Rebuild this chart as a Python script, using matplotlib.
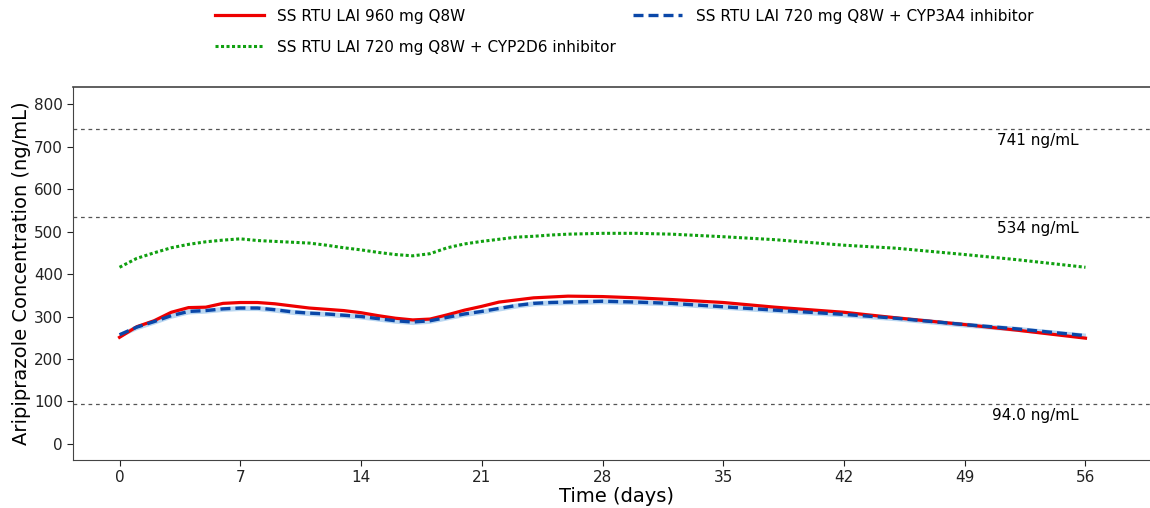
import matplotlib
matplotlib.use("Agg")
import matplotlib.pyplot as plt
import numpy as np

days = [0, 1, 2, 3, 4, 5, 6, 7, 8, 9, 10, 11, 12, 13, 14, 15, 16, 17, 18, 19,
        20, 21, 22, 23, 24, 25, 26, 28, 30, 32, 35, 38, 42, 45, 49, 52, 56]

red_960 = [251, 276, 290, 310, 321, 322, 331, 333, 333, 330, 325, 320, 317, 314,
           309, 302, 296, 292, 294, 304, 315, 324, 334, 339, 344, 346, 348, 347,
           344, 340, 333, 322, 310, 297, 281, 268, 249]

blue_720_3a4 = [257, 275, 288, 302, 312, 314, 318, 320, 320, 316, 311, 308, 306,
                303, 300, 295, 290, 287, 290, 298, 306, 312, 319, 326, 331, 333,
                334, 336, 334, 331, 323, 315, 305, 296, 281, 271, 255]

green_720_2d6 = [416, 437, 450, 462, 470, 476, 480, 483, 479, 477, 475, 473, 468,
                 462, 457, 451, 446, 443, 448, 462, 471, 477, 482, 487, 489, 492,
                 494, 496, 496, 494, 488, 481, 468, 461, 446, 434, 416]

blue_band_half = 6

ref_values = [741, 534, 94.0]
ref_labels = ["741 ng/mL", "534 ng/mL", "94.0 ng/mL"]

series_labels = ["SS RTU LAI 960 mg Q8W",
                 "SS RTU LAI 720 mg Q8W + CYP3A4 inhibitor",
                 "SS RTU LAI 720 mg Q8W + CYP2D6 inhibitor"]

x_ticks = [0, 7, 14, 21, 28, 35, 42, 49, 56]
y_ticks = [0, 100, 200, 300, 400, 500, 600, 700, 800]

fig = plt.figure(figsize=(11.5, 5.08), dpi=100)
ax = fig.add_axes([73.3 / 1150, 48 / 508, (1160 - 73.3) / 1150, (460 - 87.3) / 508])

d = np.array(days)
b = np.array(blue_720_3a4)
ax.fill_between(d, b - blue_band_half, b + blue_band_half, color="#a9cdee",
                alpha=0.8, lw=0, zorder=2)
l1, = ax.plot(days, red_960, color="#ee0000", lw=2.3, zorder=3,
              label=series_labels[0])
l2, = ax.plot(days, blue_720_3a4, color="#0a47a8", lw=2.4, ls=(0, (3, 1.5)),
              zorder=4, label=series_labels[1])
l3, = ax.plot(days, green_720_2d6, color="#10a010", lw=2.2, ls=(0, (1, 0.8)),
              zorder=3, label=series_labels[2])

for v, t in zip(ref_values, ref_labels):
    ax.axhline(v, color="#555555", lw=0.9, ls=(0, (3, 3)), zorder=1)
    ax.text(55.6, v - 9, t, ha="right", va="top", fontsize=11, color="black")

ax.set_xlim(-2.68, 60.32)
ax.set_ylim(-38, 840)
ax.set_xticks(x_ticks)
ax.set_yticks(y_ticks)
ax.tick_params(labelsize=11, colors="#222222", length=4)
for s in ["left", "bottom", "top"]:
    ax.spines[s].set_color("#444444")
ax.spines["top"].set_linewidth(1.2)
ax.spines["right"].set_visible(False)

ax.set_xlabel("Time (days)", fontsize=14, labelpad=1)
ax.set_ylabel("Aripiprazole Concentration (ng/mL)", fontsize=14, labelpad=2)

leg = fig.legend(handles=[l1, l3, l2],
                 labels=[series_labels[0], series_labels[2], series_labels[1]],
                 ncol=2, loc="upper center", bbox_to_anchor=(624 / 1150, 1.01),
                 frameon=False, fontsize=11, handlelength=3.2,
                 handletextpad=0.9, columnspacing=1.1, labelspacing=1.05)

fig.savefig("out.png", dpi=100)
